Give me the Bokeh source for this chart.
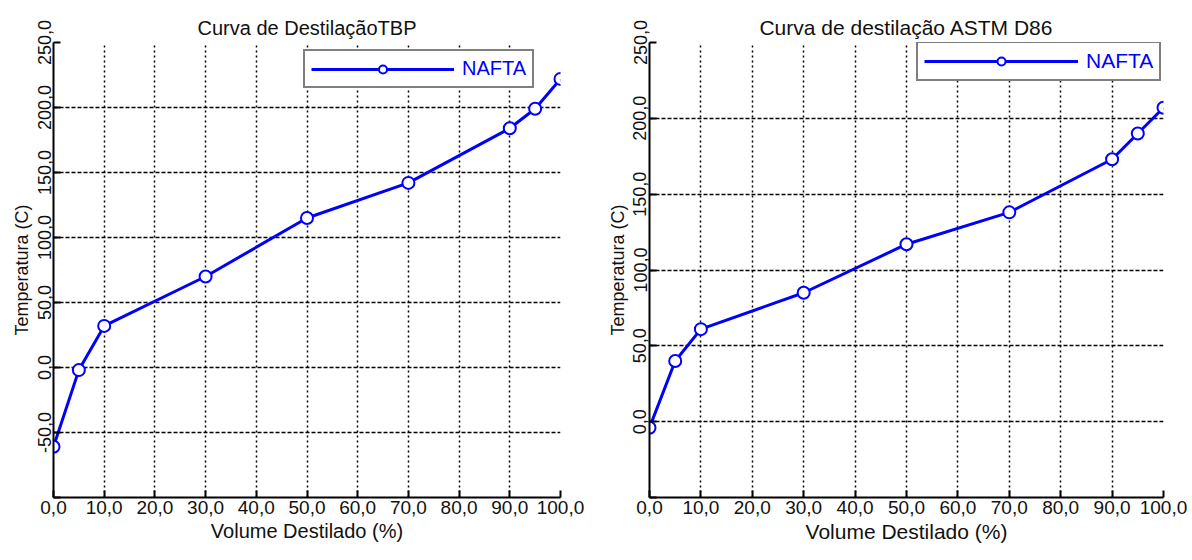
from bokeh.plotting import figure
from bokeh.layouts import row
from bokeh.models import FixedTicker, Legend, LegendItem
from bokeh.embed import file_html
from bokeh.resources import INLINE

# ---- data ----
volume = [0, 5, 10, 30, 50, 70, 90, 95, 100]
tbp_temp = [-61, -2, 32, 70, 115, 142, 184, 199, 222]
d86_temp = [-4, 40, 61, 85, 117, 138, 173, 190, 207]
series_name = "NAFTA"

x_ticks = [0, 10, 20, 30, 40, 50, 60, 70, 80, 90, 100]
x_labels = ["0,0", "10,0", "20,0", "30,0", "40,0", "50,0", "60,0", "70,0", "80,0", "90,0", "100,0"]
y_ticks_left = [-100, -50, 0, 50, 100, 150, 200, 250]
y_labels_left = ["", "-50,0", "0,0", "50,0", "100,0", "150,0", "200,0", "250,0"]
y_ticks_right = [-50, 0, 50, 100, 150, 200, 250]
y_labels_right = ["", "0,0", "50,0", "100,0", "150,0", "200,0", "250,0"]

FONT = "Liberation Sans"


def make_plot(title, y, yr, yticks, ylabels, width, height, borders, legend_loc, glyph_w, fs):
    bl, br, bt, bb = borders
    p = figure(width=width, height=height, x_range=(0, 100), y_range=yr,
               output_backend="svg", toolbar_location=None,
               min_border_left=bl, min_border_right=br,
               min_border_top=bt, min_border_bottom=bb)
    p.title.text = title
    p.title.align = "center"
    p.title.text_font = FONT
    p.title.text_font_size = f"{fs}px"
    p.title.text_font_style = "normal"
    p.title.text_color = "#111111"
    p.title.standoff = 8
    p.outline_line_color = None

    p.xaxis.ticker = FixedTicker(ticks=x_ticks)
    p.xaxis.major_label_overrides = {t: l for t, l in zip(x_ticks, x_labels)}
    p.yaxis.ticker = FixedTicker(ticks=yticks)
    p.yaxis.major_label_overrides = {t: l for t, l in zip(yticks, ylabels)}
    p.yaxis.major_label_orientation = "vertical"
    p.xaxis.axis_label = "Volume Destilado (%)"
    p.yaxis.axis_label = "Temperatura (C)"

    for ax in (p.xaxis, p.yaxis):
        ax.axis_line_color = "black"
        ax.axis_line_width = 2
        ax.major_tick_in = 7
        ax.major_tick_out = 0
        ax.major_tick_line_color = "black"
        ax.major_tick_line_width = 2
        ax.minor_tick_line_color = None
        ax.major_label_text_font = FONT
        ax.major_label_text_color = "#111111"
        ax.axis_label_text_font = FONT
        ax.axis_label_text_font_style = "normal"
        ax.axis_label_text_color = "#111111"
        ax.major_label_standoff = 3
        ax.axis_label_standoff = 3
    p.xaxis.major_label_text_font_size = "19px"
    p.yaxis.major_label_text_font_size = "18px"
    p.xaxis.axis_label_text_font_size = f"{fs}px"
    p.yaxis.axis_label_text_font_size = "18px"

    p.xgrid.ticker = FixedTicker(ticks=x_ticks)
    p.ygrid.ticker = FixedTicker(ticks=yticks)
    p.xgrid.grid_line_dash = "2 3"
    p.ygrid.grid_line_dash = "4 2"
    for g in (p.xgrid, p.ygrid):
        g.grid_line_color = "black"
        g.grid_line_width = 1.5
        g.grid_line_alpha = 1.0

    ln = p.line(volume, y, line_color="#0000ff", line_width=3)
    sc = p.scatter(volume, y, size=12, marker="circle", fill_color="white",
                   line_color="#0000ff", line_width=2)

    legend = Legend(items=[LegendItem(label=series_name, renderers=[ln, sc])],
                    location=legend_loc)
    legend.glyph_width = glyph_w
    legend.glyph_height = 20
    legend.label_text_font = FONT
    legend.label_text_font_size = f"{fs}px"
    legend.label_text_color = "#0000ff"
    legend.label_standoff = 8
    legend.padding = 6
    legend.spacing = 0
    legend.margin = 0
    legend.border_line_color = "black"
    legend.border_line_width = 2
    legend.background_fill_color = "white"
    legend.background_fill_alpha = 1.0
    p.add_layout(legend, "center")
    return p


# left frame: x 53..560, y 42..497 ; right frame: x 649..1163, y 42..512
p1 = make_plot("Curva de DestilaçãoTBP", tbp_temp, (-100, 250),
               y_ticks_left, y_labels_left, 598, 560, (53, 38, 42, 63),
               (250, 409), 143, 20)
p2 = make_plot("Curva de destilação ASTM D86", d86_temp, (-50, 250),
               y_ticks_right, y_labels_right, 594, 560, (51, 29, 42, 48),
               (267, 416), 154, 21)

layout = row(p1, p2, spacing=0)
open("out.html", "w").write(file_html(layout, INLINE))
